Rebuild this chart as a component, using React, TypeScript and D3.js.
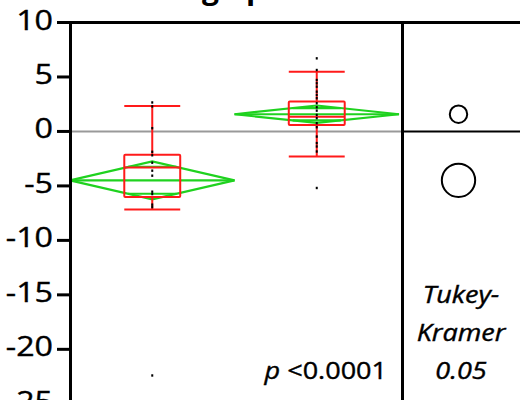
import React from "react";
import * as d3 from "d3";

// Groups and raw observations
const groups = ["Placebo", "Treated"];
const placeboValues = [2.66, 2.3, 0.3, -1.87, -2.19, -2.87, -3.6, -4.06, -5.53, -5.75, -6.72, -6.94, -22.4];
const treatedValues = [
  6.71, 5.64, 4.72, 4.42, 4.11, 3.65, 3.35, 3.05, 2.59, 2.22, 1.91, 1.52, 1.22, 0.76, 0.39,
  -0.47, -1.07, -1.38, -1.84, -5.19,
];

// Outlier box plot summaries per group
const whiskerLow = [-7.17, -2.3];
const quartile1 = [-6.01, 0.6];
const medians = [-3.3, 1.36];
const quartile3 = [-2.14, 2.74];
const whiskerHigh = [2.34, 5.48];

// Means diamonds (mean and 95% CI half-width) and Tukey-Kramer comparison circle radii
const means = [-4.49, 1.58];
const ciHalf = [1.74, 0.8];
const circleRadius = [1.53, 0.8];

const yTicks = [10, 5, 0, -5, -10, -15, -20, -25];
const pValueText = "<0.0001";
const comparisonLines = ["Tukey-", "Kramer", "0.05"];

const W = 520;
const H = 400;
const FONT = "'Open Sans', sans-serif";
const STRETCH = 1.15;
const RED = "#ff1a1a";
const GREEN = "#1fd21f";

const axisX = 70.5;
const dividerX = 402.5;
const panelCenterX = 461;

const y = d3.scaleLinear().domain([-25, 10]).range([403.8, 22.5]);
const x = d3.scaleBand<string>().domain(groups).range([70, 399]).padding(0);

type LabelProps = {
  x: number;
  y: number;
  size: number;
  anchor?: "start" | "middle" | "end";
  italic?: boolean;
  children: React.ReactNode;
};

function Label({ x, y, size, anchor = "start", italic, children }: LabelProps) {
  return (
    <text
      transform={`translate(${x},${y}) scale(${STRETCH},1)`}
      textAnchor={anchor}
      fontFamily={FONT}
      fontSize={size}
      fontStyle={italic ? "italic" : "normal"}
      fill="#000"
      stroke="#000"
      strokeWidth={0.4}
    >
      {children}
    </text>
  );
}

export default function App() {
  const values = [placeboValues, treatedValues];
  const half = x.bandwidth() / 2;
  const boxHalf = x.bandwidth() * 0.17;
  const k = 1 - Math.SQRT1_2;

  return (
    <svg
      width={W}
      height={H}
      viewBox={`0 0 ${W} ${H}`}
      style={{ position: "fixed", left: 0, top: 0, background: "#fff" }}
    >
      <rect x={0} y={0} width={W} height={H} fill="#fff" />

      {/* Title, mostly above the visible area */}
      <text fontFamily={FONT} fontSize={30} fontWeight={700} y={-1}>
        <tspan x={219} textAnchor="end">Training</tspan>
        <tspan x={246} textAnchor="start">period</tspan>
      </text>

      {/* Zero reference lines */}
      <line x1={axisX} x2={dividerX} y1={y(0)} y2={y(0)} stroke="#999" strokeWidth={2} />
      <line x1={dividerX} x2={W} y1={y(0)} y2={y(0)} stroke="#000" strokeWidth={2} />

      {groups.map((g, i) => {
        const cx = (x(g) as number) + half;
        const m = means[i];
        const hPx = y(m) - y(m + ciHalf[i]);
        const ym = y(m);
        const ov = hPx * Math.SQRT1_2;
        const diamond = [
          [cx - half, ym],
          [cx, ym - hPx],
          [cx + half, ym],
          [cx, ym + hPx],
        ];
        return (
          <g key={g}>
            {/* Means diamond */}
            <polygon
              points={diamond.map((p) => p.join(",")).join(" ")}
              fill="none"
              stroke={GREEN}
              strokeWidth={2.2}
            />
            <line x1={cx - half} x2={cx + half} y1={ym} y2={ym} stroke={GREEN} strokeWidth={2.2} />
            <line x1={cx - half * k} x2={cx + half * k} y1={ym - ov} y2={ym - ov} stroke={GREEN} strokeWidth={2.2} />
            <line x1={cx - half * k} x2={cx + half * k} y1={ym + ov} y2={ym + ov} stroke={GREEN} strokeWidth={2.2} />

            {/* Box plot */}
            <line x1={cx} x2={cx} y1={y(quartile3[i])} y2={y(whiskerHigh[i])} stroke={RED} strokeWidth={2} />
            <line x1={cx} x2={cx} y1={y(quartile1[i])} y2={y(whiskerLow[i])} stroke={RED} strokeWidth={2} />
            <line x1={cx - boxHalf} x2={cx + boxHalf} y1={y(whiskerHigh[i])} y2={y(whiskerHigh[i])} stroke={RED} strokeWidth={2} />
            <line x1={cx - boxHalf} x2={cx + boxHalf} y1={y(whiskerLow[i])} y2={y(whiskerLow[i])} stroke={RED} strokeWidth={2} />
            <rect
              x={cx - boxHalf}
              y={y(quartile3[i])}
              width={boxHalf * 2}
              height={y(quartile1[i]) - y(quartile3[i])}
              fill="none"
              stroke={RED}
              strokeWidth={2}
              rx={1}
            />
            <line x1={cx - boxHalf} x2={cx + boxHalf} y1={y(medians[i])} y2={y(medians[i])} stroke={RED} strokeWidth={2} />

            {/* Observations */}
            {values[i].map((v, j) => (
              <rect key={j} x={cx - 1} y={y(v) - 1.2} width={2} height={2.4} fill="#000" />
            ))}
          </g>
        );
      })}

      {/* Tukey-Kramer comparison circles */}
      {groups.map((g, i) => (
        <circle
          key={g}
          cx={panelCenterX - 2.5}
          cy={y(means[i])}
          r={y(0) - y(circleRadius[i])}
          fill="none"
          stroke="#000"
          strokeWidth={2}
        />
      ))}

      {/* Frame and axis */}
      <line x1={57} x2={W} y1={y(10)} y2={y(10)} stroke="#000" strokeWidth={3} />
      <line x1={axisX} x2={axisX} y1={y(10) - 1.5} y2={H} stroke="#000" strokeWidth={3} />
      <line x1={dividerX} x2={dividerX} y1={y(10) - 1.5} y2={H} stroke="#000" strokeWidth={3} />
      {yTicks.map((t) => (
        <g key={t}>
          <line x1={57} x2={axisX} y1={y(t)} y2={y(t)} stroke="#000" strokeWidth={3} />
          <Label x={53} y={y(t) + 7} size={28} anchor="end">
            {t}
          </Label>
        </g>
      ))}

      {/* Test annotations */}
      <Label x={387} y={379} size={23.5} anchor="end">
        <tspan fontStyle="italic">p</tspan> {pValueText}
      </Label>
      {comparisonLines.map((s, i) => (
        <Label key={s} x={panelCenterX} y={303 + i * 38} size={23.5} anchor="middle" italic>
          {s}
        </Label>
      ))}
    </svg>
  );
}
